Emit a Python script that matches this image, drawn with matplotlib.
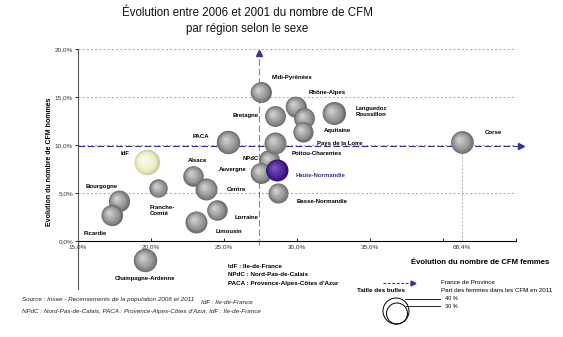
import matplotlib
matplotlib.use("Agg")
import matplotlib.pyplot as plt
import matplotlib.transforms as mtransforms
from matplotlib.colors import to_rgb
from matplotlib.lines import Line2D
from matplotlib.patches import Circle
import numpy as np

plt.rcParams["font.family"] = ["Liberation Sans", "DejaVu Sans"]

# Évolution 2006-2011 du nombre de CFM, par région (en %)
regions = ["Midi-Pyrénées", "Rhône-Alpes", "Bretagne", "Pays de la Loire",
           "Languedoc\nRoussillon", "Aquitaine", "PACA", "NPdC", "Auvergne",
           "Poitou-Charentes", "Haute-Normandie", "Basse-Normandie", "Alsace",
           "Centre", "Lorraine", "Limousin", "Franche-\nComté", "IdF",
           "Bourgogne", "Picardie", "Champagne-Ardenne", "Corse"]
evol_femmes = [27.5, 29.9, 28.5, 30.5, 32.5, 30.4, 25.3, 28.1, 27.5, 28.5, 28.6,
               28.7, 22.9, 23.8, 24.5, 23.1, 20.5, 19.7, 17.8, 17.3, 19.6, 68.4]
evol_hommes = [15.5, 14.0, 13.0, 12.8, 13.3, 11.4, 10.3, 8.4, 7.1, 10.2, 7.4,
               5.0, 6.8, 5.4, 3.2, 2.0, 5.5, 8.2, 4.2, 2.7, -2.0, 10.3]
part_femmes = [27, 27, 27, 27, 33, 25, 34, 27, 27, 30, 30,
               25, 26, 30, 26, 30, 21, 40, 28, 28, 34, 32]

# France de province
province_femmes = 27.4
province_hommes = 9.9

x_ticks = [15, 20, 25, 30, 35, 68.4]
y_ticks = [0, 5, 10, 15, 20]

# label placement around each bubble (pixels)
label_offsets = [(31, 15), (32, 14), (-29, 1), (35, -25), (38, 2), (35, 1),
                 (-27, 6), (-19, 2), (-28, 3), (42, -10), (44, -6), (44, -9),
                 (4, 15), (30, 0), (30, -7), (33, -10), (4, -22), (-22, 9),
                 (-17, 14), (-16, -18), (0, -18), (31, 10)]

GREY = ("#6c6c6c", "#939393", "#cdcdcd")
SPECIAL = {"IdF": ("#cfcea2", "#efeec8", "#fbfbee"),
           "Haute-Normandie": ("#340d75", "#4f2298", "#7552b8")}
BLUE = "#34349a"
W, H = 563, 337

# axis broken after 40 % so that Corse fits
BREAK = 40.0
SQUEEZE = 1.3 / 28.4


def fwd(x):
    x = np.asarray(x, dtype=float)
    return np.where(x <= BREAK, x, BREAK + (x - BREAK) * SQUEEZE)


def inv(x):
    x = np.asarray(x, dtype=float)
    return np.where(x <= BREAK, x, BREAK + (x - BREAK) / SQUEEZE)


def px(x, y):
    return x / W, 1 - y / H


def blend(c1, c2, t):
    a, b = np.array(to_rgb(c1)), np.array(to_rgb(c2))
    return a + (b - a) * t


def sphere(ax, x, y, size, colors):
    dark, mid, light = colors
    r = np.sqrt(size) / 2.0
    n = 16
    for i in range(n):
        t = i / (n - 1)
        f = 1.0 - 0.85 * t
        shift = (1.0 - f) * r * 0.4
        tr = mtransforms.offset_copy(ax.transData, fig=ax.figure,
                                     x=-shift * 0.75, y=shift * 0.75,
                                     units="points")
        if t < 0.3:
            c = blend(dark, mid, t / 0.3)
        else:
            c = blend(mid, light, (t - 0.3) / 0.7)
        ax.scatter([x], [y], s=(2 * r * f) ** 2, color=c, lw=0,
                   transform=tr, zorder=3)


fig = plt.figure(figsize=(W / 100, H / 100), dpi=100)
ax = fig.add_axes([78 / W, 1 - 289 / H, (516 - 78) / W, (289 - 49) / H])
ax.set_xscale("function", functions=(fwd, inv))
ax.set_xlim(15, float(inv(45)))
ax.set_ylim(-5, 20)

for s in ["top", "right"]:
    ax.spines[s].set_visible(False)
ax.spines["bottom"].set_position(("data", 0))
ax.spines["bottom"].set_linewidth(0.8)
ax.spines["left"].set_linewidth(0.8)
ax.spines["left"].set_color("#555555")

ax.set_xticks([15, 20, 25, 30, 35, 40, float(inv(45))])
ax.set_xticklabels([])
ax.tick_params(axis="x", direction="in", length=2.5, width=0.6)
for v in x_ticks:
    ax.text(v, -0.35, f"{v:.1f}%".replace(".", ","), ha="center", va="top",
            fontsize=4.6, color="#333333")

ax.set_yticks(y_ticks)
ax.set_yticklabels([f"{v:.1f}%".replace(".", ",") for v in y_ticks],
                   fontsize=4.6, color="#333333")
ax.tick_params(axis="y", direction="out", length=2, width=0.6, pad=1.5)
ax.yaxis.grid(True, ls=(0, (2.5, 2.5)), color="#9a9a9a", lw=0.6)
ax.set_axisbelow(True)

# France de province reference lines
blended = mtransforms.blended_transform_factory(ax.transAxes, ax.transData)
ax.plot([0, 1.012], [province_hommes] * 2, transform=blended, color=BLUE,
        lw=0.8, ls=(0, (6, 2.5)), clip_on=False, zorder=2)
ax.plot([1.012], [province_hommes], transform=blended, marker=">",
        color=BLUE, ms=4, clip_on=False, zorder=2)
ax.plot([province_femmes] * 2, [-0.4, 19.6], color=BLUE, lw=0.8,
        ls=(0, (6, 2.5)), alpha=0.6, clip_on=False, zorder=2)
ax.plot([province_femmes], [19.6], marker="^", color=BLUE, ms=4,
        clip_on=False, zorder=2)

# Corse guide line down to the axis
corse = regions.index("Corse")
ax.plot([evol_femmes[corse]] * 2, [0, evol_hommes[corse]], color="#aaaaaa",
        lw=0.6, ls=(0, (2.5, 2)), zorder=2)

for i, name in enumerate(regions):
    colors = SPECIAL.get(name, GREY)
    sphere(ax, evol_femmes[i], evol_hommes[i], part_femmes[i] * 8.35, colors)
    ax.annotate(name, (evol_femmes[i], evol_hommes[i]),
                xytext=label_offsets[i], textcoords="offset pixels",
                ha="center", va="center", fontsize=4.3, fontweight="bold",
                color="#4b2a8c" if name == "Haute-Normandie" else "black",
                multialignment="left", zorder=4)

fig.text(*px(50, 162), "Evolution du nombre de CFM hommes", rotation=90,
         ha="center", va="center", fontsize=5, fontweight="bold")

fig.text(*px(248, 13), "Évolution entre 2006 et 2001 du nombre de CFM",
         ha="center", va="center", fontsize=8.3, color="#111111")
fig.text(*px(247, 29), "par région selon le sexe",
         ha="center", va="center", fontsize=8.3, color="#111111")

# abbreviations under the axis
for j, line in enumerate(["IdF : Ile-de-France", "NPdC : Nord-Pas-de-Calais",
                          "PACA : Provence-Alpes-Côtes d'Azur"]):
    fig.text(*px(228, 267 + 8 * j), line, ha="left", va="center",
             fontsize=4.5, fontweight="bold")

# legend
fig.text(*px(480, 263), "Évolution du nombre de CFM femmes", ha="center",
         va="center", fontsize=5.6, fontweight="bold")
fig.add_artist(Line2D([383 / W, 410 / W], [1 - 283 / H] * 2, color=BLUE,
                      lw=0.8, ls=(0, (2.5, 1.5))))
fig.add_artist(Line2D([413 / W], [1 - 283 / H], marker=">", color=BLUE,
                      ms=3.5))
fig.text(*px(441, 283), "France de Province", ha="left", va="center",
         fontsize=4.5)
fig.text(*px(381, 291), "Taille des bulles", ha="center", va="center",
         fontsize=4.5, fontweight="bold")
fig.text(*px(441, 291), "Part des femmes dans les CFM en 2011", ha="left",
         va="center", fontsize=4.5)
for cx, cy, r in [(396, 311, 13), (397, 313.5, 10.5)]:
    fig.add_artist(Circle((cx / 100, (H - cy) / 100), r / 100,
                          transform=fig.dpi_scale_trans, fill=False,
                          lw=0.7, color="black"))
for ly, lbl, x0 in [(299, "40 %", 405), (306, "30 %", 406)]:
    fig.add_artist(Line2D([x0 / W, 440 / W], [1 - ly / H] * 2, color="black",
                          lw=0.6))
    fig.text(*px(445, ly), lbl, ha="left", va="center", fontsize=4)

# sources
fig.text(*px(22, 300), "Source : Insee - Recensements de la population "
         "2006 et 2011", ha="left", va="center", fontsize=4.5,
         style="italic", color="#222222")
fig.text(*px(22, 311), "NPdC : Nord-Pas-de-Calais, PACA : Provence-Alpes-"
         "Côtes d'Azur, IdF : Ile-de-France", ha="left", va="center",
         fontsize=4.5, style="italic", color="#222222")
fig.text(*px(201, 302), "IdF : Ile-de-France", ha="left", va="center",
         fontsize=4.5, style="italic", color="#222222")

fig.savefig("out.png", dpi=100)
